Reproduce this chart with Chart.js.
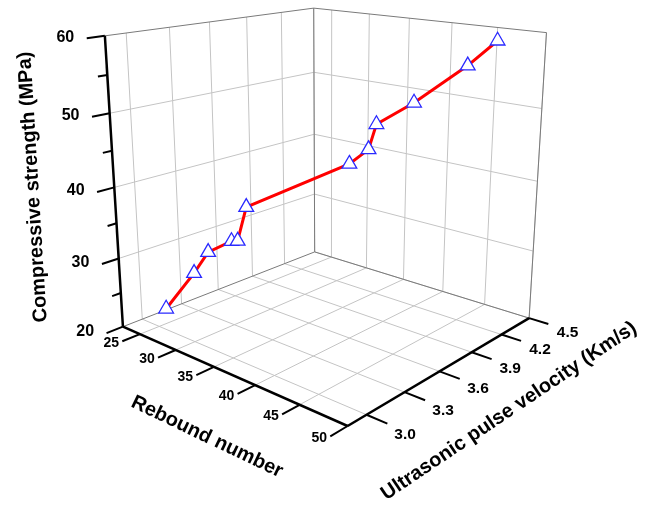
<!DOCTYPE html>
<html>
<head>
<meta charset="utf-8">
<script src="https://cdn.jsdelivr.net/npm/chart.js@4"></script>
<style>
  html, body { margin: 0; padding: 0; background: #fff; }
  canvas { display: block; }
</style>
</head>
<body>
<canvas id="chart" width="645" height="507"></canvas>
<script>
'use strict';

// ============================================================
// DATA
// ============================================================
const reboundNumber = [25.2, 27.4, 28.4, 29.9, 30.4, 31.0, 37.9, 39.1, 39.6, 42.0, 45.4, 47.0];
const pulseVelocity = [3.01, 3.12, 3.18, 3.28, 3.30, 3.34, 3.75, 3.83, 3.86, 4.01, 4.22, 4.36];
const strength      = [22.3, 27.8, 30.9, 32.4, 32.5, 37.4, 43.4, 45.4, 48.9, 51.8, 56.8, 60.0];

const reboundTicks  = [25, 30, 35, 40, 45, 50];
const velocityTicks = [3.0, 3.3, 3.6, 3.9, 4.2, 4.5];
const strengthTicks = [20, 30, 40, 50, 60];
const strengthMinor = [25, 35, 45, 55];

const R_RANGE = [22.5, 50];
const U_RANGE = [2.86, 4.5];
const S_RANGE = [20, 60];

// ============================================================
// 3D VIEW (perspective box, tuned by eye)
// ============================================================
const VIEW = {
  az: 48.7, el: 16.5, dist: 3.4,
  lx: 1.012, ly: 0.985, lz: 1,
  scale: 300, cx: 328, cy: 184.3
};
const DEG = Math.PI / 180;
const sb = Math.sin(VIEW.az * DEG), cb = Math.cos(VIEW.az * DEG);
const sp = Math.sin(VIEW.el * DEG), cp = Math.cos(VIEW.el * DEG);

function project(R, U, S) {
  const x = ((R - R_RANGE[0]) / (R_RANGE[1] - R_RANGE[0]) - 0.5) * VIEW.lx;
  const y = ((U - U_RANGE[0]) / (U_RANGE[1] - U_RANGE[0]) - 0.5) * VIEW.ly;
  const z = ((S - S_RANGE[0]) / (S_RANGE[1] - S_RANGE[0]) - 0.5) * VIEW.lz;
  const px = x * sb + y * cb;
  const py = -x * sp * cb + y * sp * sb + z * cp;
  const pz = x * cp * cb - y * cp * sb + z * sp;
  const k = VIEW.dist / (VIEW.dist - pz);
  return { x: VIEW.cx + VIEW.scale * k * px, y: VIEW.cy - VIEW.scale * k * py };
}

const points = reboundNumber.map((r, i) => project(r, pulseVelocity[i], strength[i]));

// ============================================================
// BOX, GRID, AXES (drawn under the dataset)
// ============================================================
const FONT = '"Liberation Sans", Arial, sans-serif';

function seg(ctx, a, b) {
  ctx.beginPath();
  ctx.moveTo(a.x, a.y);
  ctx.lineTo(b.x, b.y);
  ctx.stroke();
}

const box3d = {
  id: 'box3d',
  beforeDatasetsDraw(chart) {
    const ctx = chart.ctx;
    const [r0, r1] = R_RANGE, [u0, u1] = U_RANGE, [s0, s1] = S_RANGE;
    const dR = r1 - r0, dU = u1 - u0;
    const P = project;
    const inner = strengthTicks.slice(1, -1);
    ctx.save();
    ctx.lineCap = 'butt';

    // grid lines
    ctx.strokeStyle = '#c4c4c4';
    ctx.lineWidth = 1;
    velocityTicks.forEach(u => {
      seg(ctx, P(r0, u, s0), P(r0, u, s1));   // left wall
      seg(ctx, P(r0, u, s0), P(r1, u, s0));   // floor
    });
    reboundTicks.forEach(r => {
      seg(ctx, P(r, u1, s0), P(r, u1, s1));   // back wall
      seg(ctx, P(r, u0, s0), P(r, u1, s0));   // floor
    });
    inner.forEach(s => {
      seg(ctx, P(r0, u0, s), P(r0, u1, s));
      seg(ctx, P(r0, u1, s), P(r1, u1, s));
    });

    // back frame
    ctx.strokeStyle = '#7a7a7a';
    seg(ctx, P(r0, u0, s0), P(r0, u1, s0));
    seg(ctx, P(r0, u1, s0), P(r1, u1, s0));
    seg(ctx, P(r0, u1, s0), P(r0, u1, s1));
    seg(ctx, P(r0, u0, s1), P(r0, u1, s1));
    seg(ctx, P(r0, u1, s1), P(r1, u1, s1));
    seg(ctx, P(r1, u1, s0), P(r1, u1, s1));

    // axis lines
    ctx.strokeStyle = '#000';
    ctx.lineWidth = 2.5;
    seg(ctx, P(r0, u0, s0), P(r0, u0, s1));
    seg(ctx, P(r0, u0, s0), P(r1, u0, s0));
    seg(ctx, P(r1, u0, s0), P(r1, u1, s0));

    // ticks + tick labels
    ctx.lineWidth = 2;
    ctx.fillStyle = '#000';
    ctx.textBaseline = 'middle';

    ctx.font = 'bold 16px ' + FONT;
    ctx.textAlign = 'right';
    strengthTicks.forEach(s => {
      const b = P(r0, u0 - 0.07 * dU, s);
      seg(ctx, P(r0, u0, s), b);
      ctx.fillText(String(s), b.x - 12.5, b.y - 1);
    });
    strengthMinor.forEach(s => seg(ctx, P(r0, u0, s), P(r0, u0 - 0.037 * dU, s)));

    ctx.font = 'bold 14px ' + FONT;
    ctx.textAlign = 'center';
    reboundTicks.forEach(r => {
      const b = P(r, u0 - 0.075 * dU, s0);
      seg(ctx, P(r, u0, s0), b);
      ctx.fillText(String(r), b.x - 11, b.y + 2);
    });

    ctx.font = 'bold 15.5px ' + FONT;
    velocityTicks.forEach(u => {
      const a = P(r1, u, s0);
      seg(ctx, a, P(r1 + 0.075 * dR, u, s0));
      const frac = (u - u0) / dU;
      ctx.fillText(u.toFixed(1), a.x + 38.5, a.y + 20.5 - 6 * frac);
    });

    // axis titles
    ctx.font = 'bold 20px ' + FONT;
    const title = (txt, x, y, ang) => {
      ctx.save();
      ctx.translate(x, y);
      ctx.rotate(ang * DEG);
      ctx.fillText(txt, 0, 0);
      ctx.restore();
    };
    title('Compressive strength (MPa)', 33, 187, -93.5);
    title('Rebound number', 207, 437, 25.5);
    title('Ultrasonic pulse velocity (Km/s)', 509, 411, -34);

    ctx.restore();
  }
};

// ============================================================
// CHART
// ============================================================
new Chart(document.getElementById('chart'), {
  type: 'scatter',
  data: {
    datasets: [{
      data: points,
      showLine: true,
      borderColor: '#ff0000',
      borderWidth: 3,
      pointStyle: 'triangle',
      pointRadius: 8.5,
      pointBorderWidth: 1.3,
      pointBorderColor: '#2a2aff',
      pointBackgroundColor: '#ffffff',
      tension: 0,
    }]
  },
  options: {
    responsive: false,
    animation: false,
    layout: { padding: 0 },
    plugins: { legend: { display: false }, tooltip: { enabled: false } },
    scales: {
      x: { type: 'linear', min: 0, max: 645, display: false },
      y: { type: 'linear', min: 0, max: 507, reverse: true, display: false }
    }
  },
  plugins: [box3d]
});
</script>
</body>
</html>
